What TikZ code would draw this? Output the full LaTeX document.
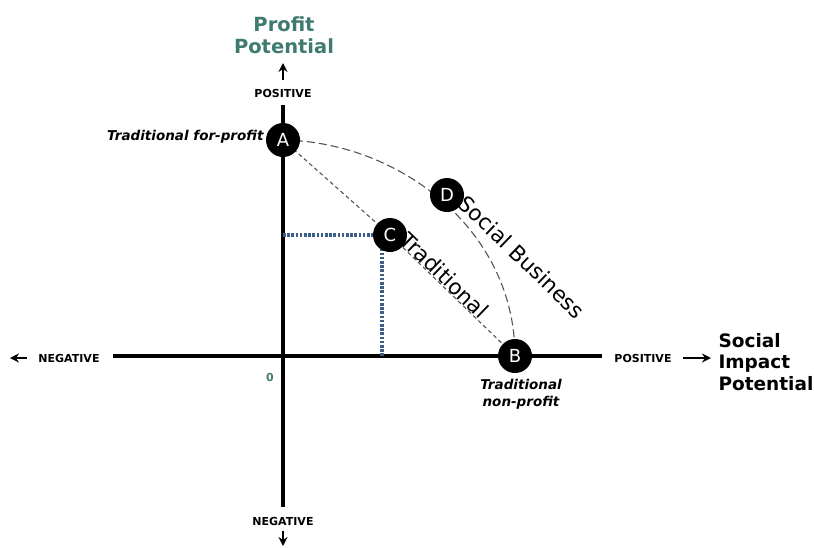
\documentclass[tikz,border=0pt]{standalone}
\usepackage{fontspec}
\setmainfont{DejaVu Sans}
\usetikzlibrary{arrows.meta}
\definecolor{tealtext}{HTML}{3F7A70}
\definecolor{dotblue}{HTML}{3D5F86}
\definecolor{dashgray}{HTML}{555555}
\begin{document}
\begin{tikzpicture}[x=1pt,y=-1pt,
  axis/.style={line width=3.2pt,black},
  tick/.style={line width=2.4pt,-{Stealth[length=9pt,width=9pt]}},
  dot/.style={circle,fill=black,minimum size=34pt,inner sep=0pt,text=white,font=\fontsize{18}{18}\selectfont},
  small/.style={font=\bfseries\fontsize{11}{12}\selectfont},
  lab/.style={font=\bfseries\itshape\fontsize{13.5}{17}\selectfont,align=center},
  curvelab/.style={font=\fontsize{21.5}{24}\selectfont,rotate=-44,anchor=west},
  longdash/.style={dashgray,line width=1.1pt,dash pattern=on 8pt off 4pt},
  shortdash/.style={dashgray,line width=1.1pt,dash pattern=on 4pt off 3pt},
  blueline/.style={dotblue,line width=3.2pt,dash pattern=on 2.6pt off 1.6pt}]
\useasboundingbox (0,0) rectangle (814,547);

% axis end points
\coordinate (vtop) at (283,105);
\coordinate (vbot) at (283,507);
\coordinate (hleft) at (113,356);
\coordinate (hright) at (602,356);

% axis labels
\node[font=\bfseries\fontsize{19.5}{22}\selectfont,text=tealtext,align=center] (ptitle) at (284,35) {Profit\\Potential};
\node[small] (ypos) at (283,93) {POSITIVE};
\node[small] (yneg) at (283,521) {NEGATIVE};
\node[small] (xneg) at (69,358) {NEGATIVE};
\node[small] (xpos) at (643,358) {POSITIVE};
\node[font=\bfseries\fontsize{18.5}{21.5}\selectfont,align=left,anchor=west] (stitle) at (715,362) {Social\\Impact\\Potential};
\node[text=tealtext,font=\bfseries\fontsize{11}{12}\selectfont] (zero) at (270,377) {0};

% small arrows beyond the labels
\coordinate (ua0) at (283,80); \coordinate (ua1) at (283,63);
\coordinate (da0) at (283,531); \coordinate (da1) at (283,546);
\coordinate (la0) at (27,358); \coordinate (la1) at (10,358);
\coordinate (ra0) at (683,358); \coordinate (ra1) at (711,358);
\draw[tick] (ua0) -- (ua1);
\draw[tick] (da0) -- (da1);
\draw[tick] (la0) -- (la1);
\draw[tick] (ra0) -- (ra1);

% axes
\draw[axis] (vtop) -- (vbot);
\draw[axis] (hleft) -- (hright);

% point positions
\coordinate (pA) at (283,140);
\coordinate (pB) at (515,356);
\coordinate (pC) at (390,235);
\coordinate (pD) at (447,195);

% projections of C onto the axes
\coordinate (cy) at (283,235);
\coordinate (ct) at (382,240);
\coordinate (cx) at (382,356);
\draw[blueline] (cy) -- (pC);
\draw[blueline] (ct) -- (cx);

% frontier curves
\draw[shortdash] (pA) -- (pC) -- (pB);
\draw[longdash] (pA) .. controls (400,142) and (515,230) .. (pB);

% points
\node[dot] (A) at (pA) {A};
\node[dot] (C) at (pC) {C};
\node[dot] (D) at (pD) {D};
\node[dot] (B) at (pB) {B};

% labels
\node[lab,anchor=east] (lA) at (267,137) {Traditional for-profit};
\node[lab] (lB) at (521,394) {Traditional\\non-profit};
\node[curvelab] (lC) at (402,234) {Traditional};
\node[curvelab] (lD) at (460,197) {Social Business};
\end{tikzpicture}
\end{document}
